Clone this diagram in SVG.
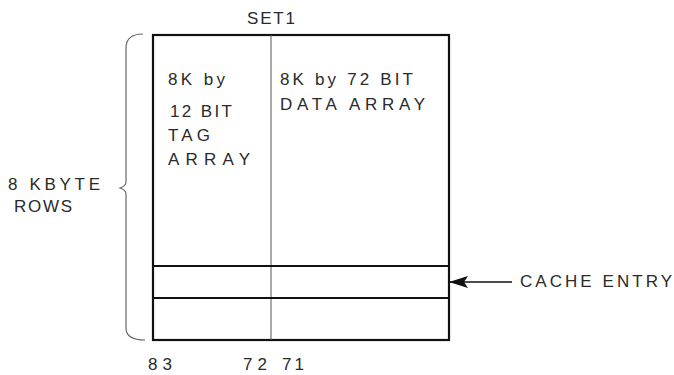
<svg xmlns="http://www.w3.org/2000/svg" width="674" height="375" viewBox="0 0 674 375">
<style>
text{font-family:"Liberation Sans",Arial,sans-serif;font-size:17px;fill:#2a2a2a}
.thick{stroke:#111;stroke-width:2.2;fill:none}
.thin{stroke:#555;stroke-width:1;fill:none}
.brace{stroke:#666;stroke-width:1.2;fill:none}
</style>
<defs>
<marker id="ah" markerWidth="20" markerHeight="12" refX="19" refY="6" orient="auto" markerUnits="userSpaceOnUse">
<path d="M0,0 L19,6 L0,12 L4,6 Z" fill="#111"/>
</marker>
</defs>
<rect width="674" height="375" fill="#fff"/>
<g id="set1">
<text x="247" y="24" textLength="48" lengthAdjust="spacing">SET1</text>
<rect class="thick" x="153" y="35" width="296" height="305"/>
<line class="thin" x1="271" y1="35" x2="271" y2="340"/>
<line class="thick" x1="153" y1="266" x2="449" y2="266"/>
<line class="thick" x1="153" y1="298" x2="449" y2="298"/>
</g>
<g id="tag-array">
<text x="168" y="85" textLength="57" lengthAdjust="spacing">8K by</text>
<text x="170" y="117" textLength="62" lengthAdjust="spacing">12 BIT</text>
<text x="168" y="141" textLength="42" lengthAdjust="spacing">TAG</text>
<text x="168" y="165" textLength="82" lengthAdjust="spacing">ARRAY</text>
</g>
<g id="data-array">
<text x="280" y="85" textLength="133" lengthAdjust="spacing">8K by 72 BIT</text>
<text x="280" y="110" textLength="145" lengthAdjust="spacing">DATA ARRAY</text>
</g>
<g id="rows">
<path class="brace" d="M143,34 Q126,34 126,48 L126,182 Q126,186 120,188 Q126,190 126,194 L126,328 Q126,340 145,340"/>
<text x="8" y="190" textLength="92" lengthAdjust="spacing">8 KBYTE</text>
<text x="14" y="212" textLength="58" lengthAdjust="spacing">ROWS</text>
</g>
<g id="bits">
<text x="148" y="370" textLength="24" lengthAdjust="spacing">83</text>
<text x="243" y="370" textLength="24" lengthAdjust="spacing">72</text>
<text x="282" y="370" textLength="22" lengthAdjust="spacing">71</text>
</g>
<g id="connectors">
<line x1="512" y1="282" x2="449" y2="282" stroke="#111" stroke-width="1.6" marker-end="url(#ah)"/>
</g>
<g id="cache-entry">
<text x="520" y="287" textLength="152" lengthAdjust="spacing">CACHE ENTRY</text>
</g>
</svg>
